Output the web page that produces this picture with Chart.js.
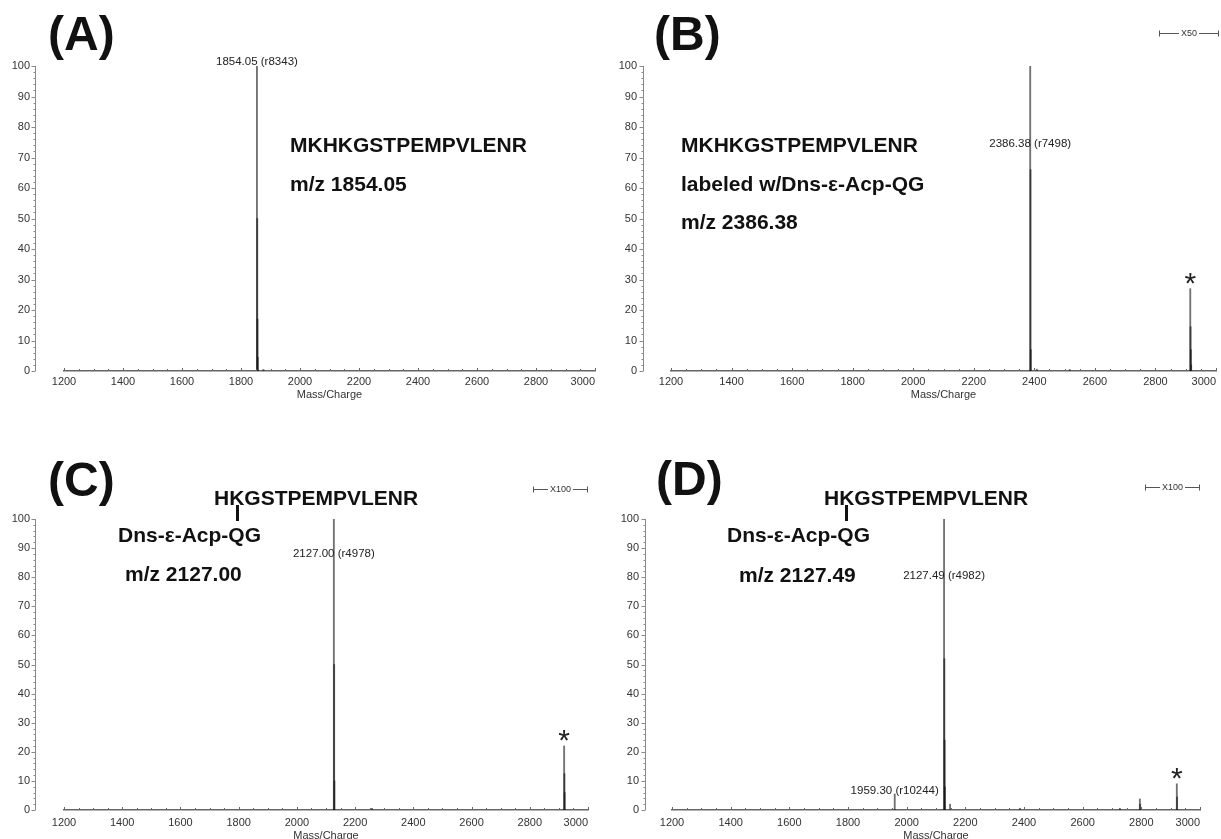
<!DOCTYPE html>
<html>
<head>
<meta charset="utf-8">
<script src="https://cdn.jsdelivr.net/npm/chart.js@4/dist/chart.umd.min.js"></script>
<style>
html, body { margin: 0; padding: 0; background: #fff; }
body { width: 1221px; height: 839px; overflow: hidden; position: relative; font-family: "Liberation Sans", Arial, sans-serif; }
canvas { position: absolute; }
.t { position: absolute; white-space: nowrap; line-height: 1; color: #111; font-weight: bold; }
.big { font-size: 48px; }
.seq { font-size: 21px; }
.stem { position: absolute; width: 3px; height: 16px; background: #111; }
</style>
</head>
<body>
<canvas id="cA" width="610" height="420" style="left:0;top:0"></canvas>
<canvas id="cB" width="611" height="420" style="left:610px;top:0"></canvas>
<canvas id="cC" width="610" height="440" style="left:0;top:420px"></canvas>
<canvas id="cD" width="611" height="440" style="left:610px;top:420px"></canvas>

<div class="t big" style="left:48px;top:10px">(A)</div>
<div class="t seq" style="left:290px;top:134px">MKHKGSTPEMPVLENR</div>
<div class="t seq" style="left:290px;top:173px">m/z 1854.05</div>

<div class="t big" style="left:654px;top:10px">(B)</div>
<div class="t seq" style="left:681px;top:134px">MKHKGSTPEMPVLENR</div>
<div class="t seq" style="left:681px;top:173px">labeled w/Dns-ε-Acp-QG</div>
<div class="t seq" style="left:681px;top:211px">m/z 2386.38</div>

<div class="t big" style="left:48px;top:456px">(C)</div>
<div class="t seq" style="left:214px;top:487px">HKGSTPEMPVLENR</div>
<div class="stem" style="left:236px;top:505px"></div>
<div class="t seq" style="left:118px;top:524px">Dns-ε-Acp-QG</div>
<div class="t seq" style="left:125px;top:563px">m/z 2127.00</div>

<div class="t big" style="left:656px;top:455px">(D)</div>
<div class="t seq" style="left:824px;top:487px">HKGSTPEMPVLENR</div>
<div class="stem" style="left:845px;top:505px"></div>
<div class="t seq" style="left:727px;top:524px">Dns-ε-Acp-QG</div>
<div class="t seq" style="left:739px;top:564px">m/z 2127.49</div>

<script>
// spectra (m/z, relative intensity %)
const mzA = [1854.05, 1855.05, 1856.05, 1857.05, 1876];
const intA = [100, 50, 17, 4.5, 0.5];

const mzB = [2386.38, 2387.38, 2388.38, 2408, 2517, 2915, 2916, 2917, 2918];
const intB = [100, 66, 7, 0.6, 0.5, 27, 14.5, 7, 2];

const mzC = [2127.00, 2128.00, 2129.00, 2258, 2918, 2919, 2920];
const intC = [100, 50, 10, 0.6, 22, 12.5, 6];

const mzD = [1959.30, 2127.49, 2128.49, 2129.49, 2130.49, 2148, 2386, 2727, 2795, 2796, 2921, 2922];
const intD = [5.5, 100, 52, 24, 8, 2, 0.6, 0.6, 3.8, 2, 9, 4.5];

const xRange = [1200, 3000];
const yRange = [0, 100];

Chart.defaults.font.family = '"Liberation Sans", Arial, sans-serif';

// axis decorations, peak labels, asterisk and zoom bracket
const specAxes = {
    id: 'specAxes',
    afterDraw(chart, args, o) {
        const ctx = chart.ctx;
        const x = chart.scales.x, y = chart.scales.y;
        const yl = o.yLineX + 0.5;
        ctx.save();
        ctx.lineWidth = 1;
        ctx.strokeStyle = '#8a8a8a';
        ctx.beginPath();
        ctx.moveTo(yl, y.getPixelForValue(100));
        ctx.lineTo(yl, y.getPixelForValue(0));
        for (let v = 0; v <= 100; v += 2) {
            const py = Math.round(y.getPixelForValue(v)) + 0.5;
            ctx.moveTo(yl - (v % 10 ? 2 : 4), py);
            ctx.lineTo(yl, py);
        }
        ctx.stroke();

        const by = y.getPixelForValue(0);
        ctx.strokeStyle = '#666';
        ctx.beginPath();
        for (let v = xRange[0]; v <= xRange[1]; v += 50) {
            const px = Math.round(x.getPixelForValue(v)) + 0.5;
            ctx.moveTo(px, by);
            ctx.lineTo(px, by - (v % 200 ? 2 : 3));
        }
        ctx.stroke();

        ctx.fillStyle = '#222';
        ctx.textAlign = 'center';
        ctx.textBaseline = 'middle';
        ctx.font = '11.5px "Liberation Sans", Arial, sans-serif';
        (o.labels || []).forEach(l => {
            ctx.fillText(l.text, x.getPixelForValue(l.mz), y.getPixelForValue(l.v));
        });

        if (o.star) {
            ctx.font = '30px "Liberation Sans", Arial, sans-serif';
            ctx.textBaseline = 'alphabetic';
            ctx.fillText('*', x.getPixelForValue(o.star.mz), y.getPixelForValue(o.star.v) - 13 + 17);
        }

        if (o.bracket) {
            const b = o.bracket;
            const x1 = Math.round(x.getPixelForValue(b.from)) + 0.5;
            const x2 = Math.round(x.getPixelForValue(b.to)) + 0.5;
            const py = b.py + 0.5;
            ctx.font = '9px "Liberation Sans", Arial, sans-serif';
            const w = ctx.measureText(b.text).width;
            const cx = (x1 + x2) / 2;
            ctx.strokeStyle = '#555';
            ctx.beginPath();
            ctx.moveTo(x1, py - 3); ctx.lineTo(x1, py + 3);
            ctx.moveTo(x2, py - 3); ctx.lineTo(x2, py + 3);
            ctx.moveTo(x1, py); ctx.lineTo(cx - w / 2 - 2, py);
            ctx.moveTo(cx + w / 2 + 2, py); ctx.lineTo(x2, py);
            ctx.stroke();
            ctx.textBaseline = 'middle';
            ctx.fillStyle = '#333';
            ctx.fillText(b.text, cx, py);
        }
        ctx.restore();
    }
};

function makeChart(id, mz, inten, cfg) {
    const pts = mz.map((m, i) => ({ x: m, y: inten[i] }));
    return new Chart(document.getElementById(id), {
        type: 'bar',
        data: {
            datasets: [{
                data: pts,
                backgroundColor: 'rgba(20,20,20,0.6)',
                barThickness: 1.2
            }]
        },
        options: {
            responsive: false,
            animation: false,
            events: [],
            layout: { padding: { left: 0, top: cfg.top, right: cfg.right, bottom: cfg.bottom } },
            plugins: {
                legend: { display: false },
                tooltip: { enabled: false },
                specAxes: cfg
            },
            scales: {
                x: {
                    type: 'linear',
                    min: xRange[0],
                    max: xRange[1],
                    offset: false,
                    ticks: {
                        stepSize: 200,
                        align: 'inner',
                        autoSkip: false,
                        maxRotation: 0,
                        padding: cfg.xPad,
                        color: '#333',
                        font: { size: 11 },
                        callback: (v, i) => i === 0 ? '' : String(v)
                    },
                    afterBuildTicks: ax => { ax.ticks.unshift({ value: xRange[0] }); },
                    afterFit: ax => { ax.height = cfg.xH; },
                    grid: { display: false, drawTicks: false },
                    border: { display: true, color: '#666', width: 1.5 },
                    title: { display: true, text: 'Mass/Charge', color: '#333', font: { size: 11 }, padding: 0 }
                },
                y: {
                    min: yRange[0],
                    max: yRange[1],
                    ticks: { stepSize: 10, padding: cfg.yPad, color: '#333', font: { size: 11 } },
                    afterFit: ax => { ax.width = cfg.left; },
                    grid: { display: false, drawTicks: false },
                    border: { display: false }
                }
            }
        },
        plugins: [specAxes]
    });
}

makeChart('cA', mzA, intA, {
    left: 64, right: 15, top: 66, bottom: 18, xH: 31, xPad: 4, yPad: 34, yLineX: 35,
    labels: [{ mz: 1854.05, v: 101.3, text: '1854.05 (r8343)' }]
});
makeChart('cB', mzB, intB, {
    left: 61, right: 5, top: 66, bottom: 18, xH: 31, xPad: 4, yPad: 34, yLineX: 33,
    labels: [{ mz: 2386.38, v: 74.4, text: '2386.38 (r7498)' }],
    star: { mz: 2915, v: 27 },
    bracket: { from: 2812, to: 3005, py: 33, text: 'X50' }
});
makeChart('cC', mzC, intC, {
    left: 64, right: 22, top: 99, bottom: 17, xH: 33, xPad: 6, yPad: 34, yLineX: 35,
    labels: [{ mz: 2127.00, v: 88, text: '2127.00 (r4978)' }],
    star: { mz: 2918, v: 22 },
    bracket: { from: 2812, to: 2997, py: 69, text: 'X100' }
});
makeChart('cD', mzD, intD, {
    left: 62, right: 21, top: 99, bottom: 17, xH: 33, xPad: 6, yPad: 33, yLineX: 35,
    labels: [
        { mz: 2127.49, v: 80.4, text: '2127.49 (r4982)' },
        { mz: 1959.30, v: 6.5, text: '1959.30 (r10244)' }
    ],
    star: { mz: 2921, v: 9 },
    bracket: { from: 2812, to: 2996, py: 67, text: 'X100' }
});
</script>
</body>
</html>
